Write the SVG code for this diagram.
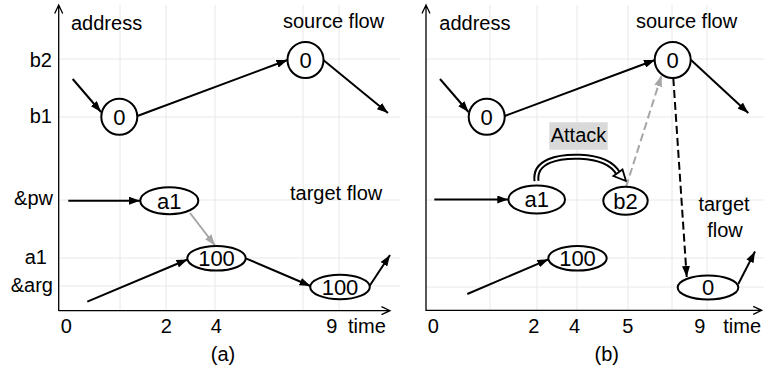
<svg xmlns="http://www.w3.org/2000/svg" width="764" height="374" viewBox="0 0 764 374">
  <style>
    .grid { stroke: #e8e8e8; stroke-width: 1; fill: none; }
    .axis { stroke: #000; stroke-width: 1.3; fill: none; }
    .edge { stroke: #000; stroke-width: 2; fill: none; marker-end: url(#ah); }
    .gray { stroke: #a6a6a6; stroke-width: 2; fill: none; marker-end: url(#ahg); }
    .dash { stroke-dasharray: 8 4; }
    .node { fill: #fff; stroke: #000; stroke-width: 2; }
    text { font-family: "Liberation Sans", Arial, sans-serif; font-size: 20px; fill: #000; }
    .n { font-size: 22px; text-anchor: middle; }
    .c { text-anchor: middle; }
    .r { text-anchor: end; }
  </style>
  <defs>
    <marker id="ah" markerUnits="userSpaceOnUse" markerWidth="11" markerHeight="8" refX="11" refY="4" orient="auto">
      <path d="M0,0 L11,4 L0,8 z" fill="#000"/>
    </marker>
    <marker id="ahg" markerUnits="userSpaceOnUse" markerWidth="11" markerHeight="8" refX="11" refY="4" orient="auto">
      <path d="M0,0 L11,4 L0,8 z" fill="#a6a6a6"/>
    </marker>
  </defs>

  <!-- panel (a) -->
  <g id="panel-a">
    <g id="grid-a">
      <path class="grid" d="M120,5V310 M166,5V310 M215,5V310 M303,5V310 M339,5V310"/>
      <path class="grid" d="M59,59H400 M59,117H400 M59,200H400 M59,258H400 M59,286H400"/>
    </g>
    <g id="axes-a">
      <path class="axis" d="M58.7,311V5 M54.7,13.5L58.7,5L62.7,13.5"/>
      <path class="axis" d="M58.7,310.7H390 M381.5,306.7L390,310.7L381.5,314.7"/>
    </g>
    <g id="labels-a">
      <text x="71" y="30">address</text>
      <text x="283" y="28">source flow</text>
      <text x="290" y="200">target flow</text>
      <text class="r" x="52" y="66.7">b2</text>
      <text class="r" x="52" y="123.3">b1</text>
      <text class="r" x="53" y="205">&amp;pw</text>
      <text class="r" x="47" y="263.5">a1</text>
      <text class="r" x="53" y="291.5">&amp;arg</text>
      <text class="c" x="66.3" y="333">0</text>
      <text class="c" x="166.3" y="333">2</text>
      <text class="c" x="216.2" y="333">4</text>
      <text class="c" x="331.7" y="333">9</text>
      <text x="348" y="333">time</text>
      <text class="c" x="223" y="361">(a)</text>
    </g>
    <g id="edges-a">
      <line class="edge" x1="72.7" y1="79" x2="101" y2="112"/>
      <line class="edge" x1="137.3" y1="116" x2="287.5" y2="60"/>
      <line class="edge" x1="323.3" y1="60" x2="388" y2="113"/>
      <line class="edge" x1="68.3" y1="200.7" x2="140" y2="200.7"/>
      <line class="gray" x1="190" y1="213" x2="215" y2="245.5"/>
      <line class="edge" x1="87.3" y1="301.7" x2="187.5" y2="259.5"/>
      <line class="edge" x1="245.7" y1="258.3" x2="310.5" y2="286"/>
      <line class="edge" x1="369.5" y1="286" x2="390" y2="255"/>
    </g>
    <g id="a-src-b1">
      <circle class="node" cx="119.3" cy="116.7" r="18"/>
      <text class="n" x="119.3" y="124.5">0</text>
    </g>
    <g id="a-src-b2">
      <circle class="node" cx="305.5" cy="60" r="18"/>
      <text class="n" x="305.5" y="67.8">0</text>
    </g>
    <g id="a-pw">
      <ellipse class="node" cx="169.3" cy="200.7" rx="29" ry="13.5"/>
      <text class="n" x="169.3" y="208.5">a1</text>
    </g>
    <g id="a-a1">
      <ellipse class="node" cx="216.5" cy="258.3" rx="29.2" ry="12.3"/>
      <text class="n" x="216.5" y="266.1">100</text>
    </g>
    <g id="a-arg">
      <ellipse class="node" cx="340" cy="287" rx="29.8" ry="12.3"/>
      <text class="n" x="340" y="294.8">100</text>
    </g>
  </g>

  <!-- panel (b) -->
  <g id="panel-b">
    <g id="grid-b">
      <path class="grid" d="M490,5V310 M537,5V310 M577,5V310 M628,5V310 M672,5V310 M707,5V310"/>
      <path class="grid" d="M426,59H764 M426,117H764 M426,200H764 M426,258H764 M426,287H764"/>
    </g>
    <g id="axes-b">
      <path class="axis" d="M426,311V5 M422,13.5L426,5L430,13.5"/>
      <path class="axis" d="M426,310.3H761.7 M753.2,306.3L761.7,310.3L753.2,314.3"/>
    </g>
    <g id="labels-b">
      <text x="439.3" y="30">address</text>
      <text x="636" y="28">source flow</text>
      <text class="c" x="724" y="210.5">target</text>
      <text class="c" x="725" y="236.7">flow</text>
      <text class="c" x="433.3" y="333">0</text>
      <text class="c" x="533.7" y="333">2</text>
      <text class="c" x="574.5" y="333">4</text>
      <text class="c" x="627.8" y="333">5</text>
      <text class="c" x="699.7" y="333">9</text>
      <text x="723.3" y="333">time</text>
      <text class="c" x="606.7" y="361">(b)</text>
    </g>
    <g id="attack">
      <rect x="549.3" y="122.3" width="58.4" height="27.4" fill="#d9d9d9"/>
      <text class="c" x="578.5" y="142.3">Attack</text>
      <path d="M536.5,181 C534,161 558,156 580,156.8 C600,157.6 613,164 618.5,174" fill="none" stroke="#000" stroke-width="6"/>
      <path d="M536.5,181 C534,161 558,156 580,156.8 C600,157.6 613,164 618.5,174" fill="none" stroke="#fff" stroke-width="2"/>
      <polygon points="613.5,176 622.5,169.5 626,181" fill="#fff" stroke="#000" stroke-width="1.8" stroke-linejoin="miter"/>
    </g>
    <g id="edges-b">
      <line class="edge" x1="440" y1="79" x2="468.5" y2="112"/>
      <line class="edge" x1="504.7" y1="116" x2="655" y2="60"/>
      <line class="edge" x1="691" y1="60" x2="748.3" y2="113"/>
      <line class="edge" x1="434.3" y1="199.5" x2="508.3" y2="199.5"/>
      <line class="gray dash" x1="626" y1="187" x2="661.5" y2="75.5"/>
      <line class="edge dash" x1="673.3" y1="78" x2="686.7" y2="277"/>
      <line class="edge" x1="467.3" y1="294" x2="548.5" y2="259.3"/>
      <line class="edge" x1="738.3" y1="284" x2="755" y2="251.5"/>
    </g>
    <g id="b-src-b1">
      <circle class="node" cx="486.7" cy="116.7" r="18"/>
      <text class="n" x="486.7" y="124.5">0</text>
    </g>
    <g id="b-src-b2">
      <circle class="node" cx="672.7" cy="60" r="18"/>
      <text class="n" x="672.7" y="67.8">0</text>
    </g>
    <g id="b-pw">
      <ellipse class="node" cx="536.7" cy="199.5" rx="28.3" ry="14"/>
      <text class="n" x="536.7" y="207.3">a1</text>
    </g>
    <g id="b-b2">
      <ellipse class="node" cx="625.5" cy="200.7" rx="22.2" ry="14"/>
      <text class="n" x="625.5" y="208.5">b2</text>
    </g>
    <g id="b-a1">
      <ellipse class="node" cx="577.5" cy="258.3" rx="29.2" ry="12.3"/>
      <text class="n" x="577.5" y="266.1">100</text>
    </g>
    <g id="b-target">
      <ellipse class="node" cx="708" cy="287.5" rx="30.3" ry="12"/>
      <text class="n" x="708" y="295.3">0</text>
    </g>
  </g>
</svg>
